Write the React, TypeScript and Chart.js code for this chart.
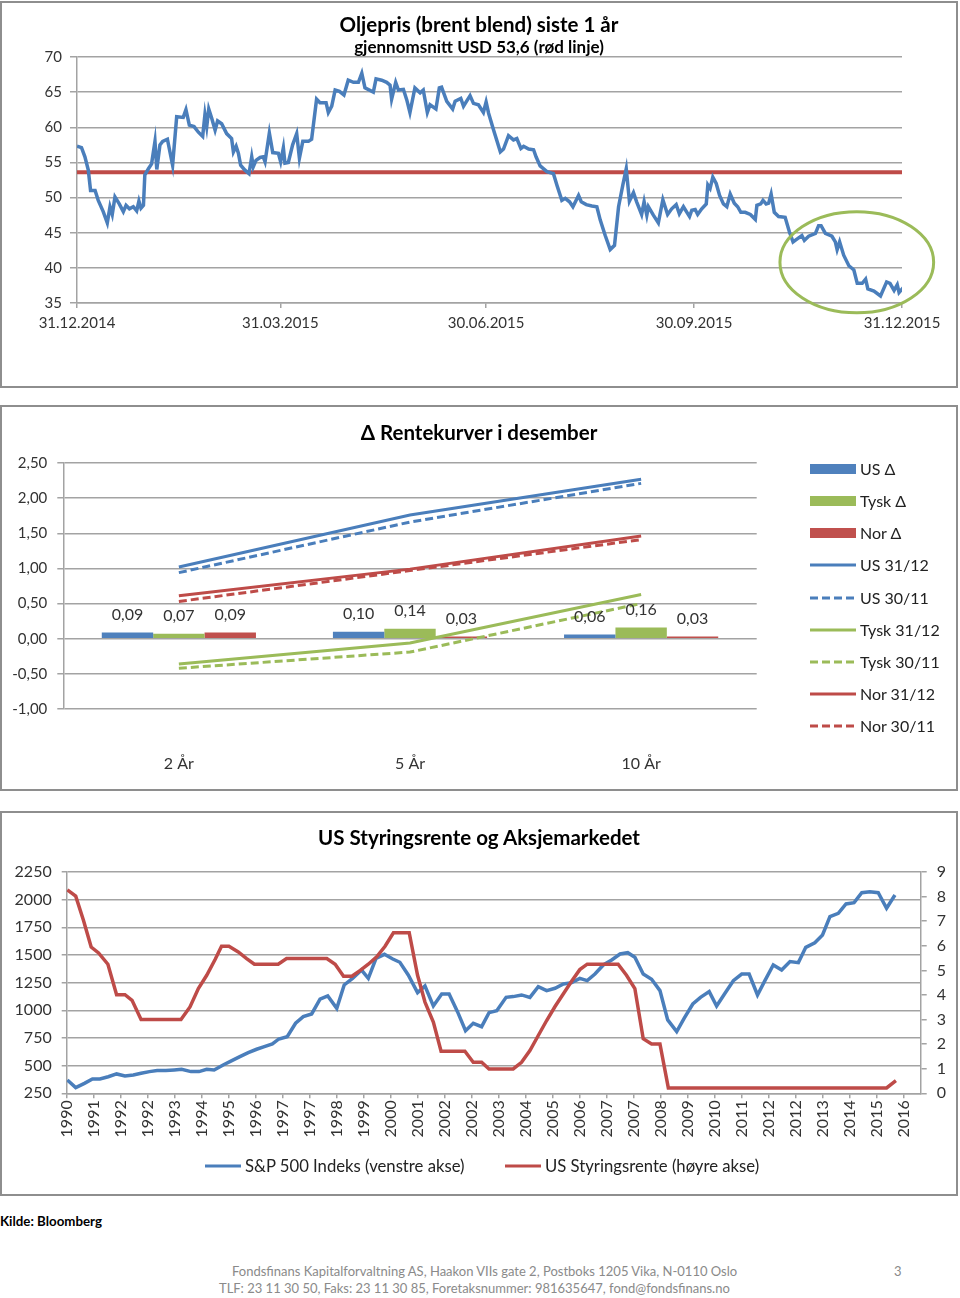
import React, { useEffect, useRef } from 'react';
import { Chart, registerables } from 'chart.js';

Chart.register(...registerables);

const FONT = 'Lato, "Open Sans", "Noto Sans", sans-serif';
const BLUE = '#4a7ebb';
const RED = '#be4b48';
const GREEN = '#9bbb59';
const GRID = '#a3a3a3';
const TXT = '#333333';

Chart.defaults.font.family = FONT;
Chart.defaults.color = TXT;

// ---------------- Chart 1: Oljepris ----------------
const oilTitle = 'Oljepris (brent blend) siste 1 år';
const oilSubtitle = 'gjennomsnitt USD 53,6 (rød linje)';
const oilAverage = 53.6;
// days after 31.12.2014
const oilDays = [
  0, 2, 3.5, 5, 6, 8, 9.4, 11.6, 13.4, 14.6, 15.6, 16.8, 18.7, 20.5, 21.7, 23.2, 24.9, 26.4, 27.4, 28.3,
  29.4, 30, 31.6, 33, 34.5, 35.3, 36.7, 37.9, 40, 42.3, 44.1, 47, 48.2, 49.7, 51.8, 53.7, 55.6, 56.6, 57.4, 58.3,
  59.6, 61.1, 62.2, 64, 66.2, 68.4, 69.2, 70.4, 71.4, 72.4, 74.3, 76.1, 77.3, 78, 79.2, 81, 82.4, 83.2, 85.1, 86.6,
  89.1, 90.1, 91.3, 92, 93.5, 95.4, 97.2, 98.4, 99.9, 102.4, 103.8, 106, 107.5, 110.2, 111.2, 112.7, 114.2, 116.1, 118.1, 120,
  122.3, 124.5, 126, 127.4, 131.1, 132.3, 134.8, 137, 138.5, 139.2, 141, 142.2, 144.4, 145.9, 147.3, 149.5, 151.8, 153.2, 155, 156.2,
  158.8, 160.3, 161.3, 163.6, 166.2, 167.3, 169.8, 171, 173.9, 175.4, 177.6, 179.8, 181, 182.1, 184.3, 187.3, 188.7, 190.9, 193.1, 194.6,
  196.4, 197.6, 199.8, 202, 203.1, 204.9, 207.9, 210.8, 212.3, 214.5, 216, 217.9, 219.4, 221.9, 223.1, 225.3, 227.8, 230, 231.5, 233.7,
  235.9, 237.8, 239.6, 241.5, 243, 244.4, 246.2, 247.6, 249.8, 250.9, 252.1, 252.8, 255, 257.2, 259.2, 261.3, 263.1, 265.1, 266.5, 268.3,
  271, 272, 273.5, 274.6, 276.4, 278.4, 279.1, 280.1, 281.3, 282.8, 284.3, 286, 287.5, 289, 290.8, 292.3, 293.7, 295.6, 297.9, 300.1,
  300.8, 302.5, 303.5, 304.9, 306, 307.1, 308.5, 310.4, 313.3, 315.2, 316.8, 318.5, 320.7, 321.8, 323.7, 326.7, 328.1, 329.2, 331.1, 334,
  335.5, 336.3, 337.4, 339.2, 341.5, 343.7, 345.2, 347.4, 348.9, 349.9, 352.6, 355.5, 358.2, 359.7, 361.5, 362.9, 363.7, 365.6,
];
const oilPrices = [
  57.3, 57.1, 55.8, 53.9, 51.0, 51.0, 49.6, 48.0, 46.4, 48.7, 47.6, 50.1, 49.1, 48.0, 48.9, 48.4, 48.7, 48.1, 49.5, 48.5,
  48.9, 53.2, 54.1, 54.8, 58.0, 54.0, 57.5, 58.0, 58.3, 54.6, 61.5, 61.4, 62.5, 60.3, 60.1, 59.3, 58.7, 61.8, 60.1, 62.6,
  61.3, 59.6, 60.9, 60.5, 59.1, 58.4, 56.5, 57.3, 56.3, 54.6, 53.9, 53.4, 55.8, 54.4, 55.3, 55.7, 55.8, 55.1, 59.2, 56.4,
  56.3, 55.1, 57.1, 54.9, 55.0, 57.5, 59.1, 55.6, 58.0, 58.0, 58.3, 64.0, 63.5, 63.5, 62.1, 63.0, 65.3, 65.1, 64.6, 66.7,
  66.4, 66.4, 67.7, 65.6, 65.0, 66.9, 66.7, 66.4, 66.0, 64.0, 66.4, 65.3, 65.4, 63.9, 62.1, 65.6, 64.9, 65.3, 62.1, 63.2,
  62.6, 65.6, 65.7, 63.7, 62.6, 63.7, 64.1, 63.0, 64.5, 63.4, 63.2, 62.1, 63.6, 62.0, 59.6, 56.5, 56.9, 58.8, 58.2, 58.4,
  57.0, 57.3, 56.9, 56.8, 55.8, 54.5, 53.7, 53.4, 51.8, 49.6, 49.9, 49.4, 48.7, 50.3, 49.4, 49.0, 48.8, 48.7, 46.8, 44.6,
  42.6, 43.2, 48.7, 51.8, 54.1, 49.5, 50.7, 49.4, 47.6, 49.4, 47.5, 48.7, 47.5, 46.4, 49.7, 47.6, 48.4, 49.0, 47.7, 48.7,
  47.3, 48.2, 48.3, 47.6, 48.4, 49.1, 51.8, 51.3, 52.9, 52.0, 50.3, 49.1, 48.7, 50.5, 49.2, 48.7, 47.9, 47.9, 47.6, 46.9,
  48.9, 49.1, 49.6, 49.1, 49.2, 50.5, 47.9, 47.3, 47.2, 45.1, 43.7, 44.1, 44.6, 43.9, 44.5, 44.9, 46.0, 46.0, 44.9, 44.5,
  43.7, 42.6, 43.7, 41.8, 40.3, 39.7, 37.8, 37.8, 38.4, 37.0, 36.7, 36.0, 38.0, 37.8, 36.8, 37.6, 36.5, 37.2,
];
const oilTickDays = [0, 90, 181, 273, 365];
const oilTickLabels = ['31.12.2014', '31.03.2015', '30.06.2015', '30.09.2015', '31.12.2015'];
const oilYMin = 35;
const oilYMax = 70;
const oilYStep = 5;
// highlight ellipse (centre day, centre price, radius days, radius price)
const highlightCenter = [345, 40.8];
const highlightRadius = [34, 7.2];

// ---------------- Chart 2: Rentekurver ----------------
const curveTitle = 'Δ Rentekurver i desember';
const curveCategories = ['2 År', '5 År', '10 År'];
const usDelta = [0.09, 0.10, 0.06];
const tyskDelta = [0.07, 0.14, 0.16];
const norDelta = [0.09, 0.03, 0.03];
const us3112 = [1.02, 1.76, 2.27];
const us3011 = [0.94, 1.66, 2.21];
const tysk3112 = [-0.36, -0.06, 0.63];
const tysk3011 = [-0.42, -0.19, 0.5];
const nor3112 = [0.61, 0.99, 1.46];
const nor3011 = [0.53, 0.97, 1.41];

// ---------------- Chart 3: Styringsrente ----------------
const rateTitle = 'US Styringsrente og Aksjemarkedet';
const yearTickLabels = [
  '1990', '1991', '1992', '1992', '1993', '1994', '1995', '1996', '1997', '1997', '1998', '1999', '2000', '2001', '2002', '2002',
  '2003', '2004', '2005', '2006', '2007', '2007', '2008', '2009', '2010', '2011', '2012', '2012', '2013', '2014', '2015', '2016',
];
const spYears = [
  1990.02, 1990.28, 1990.55, 1990.80, 1991.03, 1991.29, 1991.55, 1991.81, 1992.07, 1992.31, 1992.57, 1992.81, 1993.08, 1993.34, 1993.57, 1993.86,
  1994.11, 1994.35, 1994.58, 1994.86, 1995.13, 1995.38, 1995.64, 1995.90, 1996.14, 1996.39, 1996.59, 1996.85, 1997.11, 1997.35, 1997.61, 1997.87,
  1998.11, 1998.39, 1998.62, 1998.88, 1999.16, 1999.37, 1999.61, 1999.87, 2000.13, 2000.35, 2000.61, 2000.90, 2001.13, 2001.39, 2001.65, 2001.88,
  2002.14, 2002.39, 2002.63, 2002.89, 2003.12, 2003.36, 2003.65, 2003.87, 2004.13, 2004.39, 2004.65, 2004.91, 2005.17, 2005.43, 2005.69, 2005.94,
  2006.17, 2006.41, 2006.67, 2006.93, 2007.19, 2007.43, 2007.65, 2007.91, 2008.17, 2008.43, 2008.67, 2008.95, 2009.18, 2009.45, 2009.69, 2009.96,
  2010.19, 2010.45, 2010.71, 2010.97, 2011.20, 2011.46, 2011.69, 2011.95, 2012.21, 2012.47, 2012.73, 2012.96, 2013.24, 2013.48, 2013.71, 2013.97,
  2014.21, 2014.46, 2014.70, 2014.95, 2015.21, 2015.47, 2015.73,
];
const spValues = [
  370, 301, 340, 380, 380, 400, 425, 407, 416, 431, 446, 455, 455, 461, 467, 446,
  446, 467, 461, 506, 545, 581, 617, 648, 672, 696, 741, 762, 883, 943, 967, 1100,
  1130, 1018, 1229, 1289, 1364, 1289, 1470, 1506, 1464, 1434, 1319, 1160, 1220, 1039, 1148, 1148,
  988, 816, 883, 852, 979, 997, 1117, 1124, 1139, 1117, 1214, 1178, 1199, 1238, 1250, 1289,
  1268, 1328, 1410, 1455, 1509, 1521, 1479, 1328, 1280, 1178, 913, 807, 928, 1057, 1117, 1169,
  1039, 1154, 1268, 1328, 1328, 1139, 1268, 1410, 1364, 1440, 1431, 1569, 1611, 1681, 1846, 1876,
  1961, 1973, 2063, 2072, 2063, 1922, 2042,
];
const rateYears = [
  1990.02, 1990.28, 1990.52, 1990.76, 1990.99, 1991.28, 1991.55, 1991.81, 1992.03, 1992.31, 1993.55, 1993.83, 1994.09, 1994.35, 1994.61, 1994.81,
  1995.04, 1995.33, 1995.59, 1995.83, 1996.57, 1996.83, 1998.08, 1998.34, 1998.60, 1998.86, 1999.12, 1999.37, 1999.63, 1999.89, 2000.15, 2000.64,
  2000.90, 2001.13, 2001.39, 2001.63, 2002.37, 2002.63, 2002.89, 2003.12, 2003.87, 2004.13, 2004.39, 2004.65, 2004.91, 2005.17, 2005.43, 2005.69,
  2005.94, 2006.17, 2007.13, 2007.39, 2007.65, 2007.91, 2008.17, 2008.43, 2008.69, 2015.47, 2015.76,
];
const rateValues = [
  8.27, 8.02, 7.04, 5.95, 5.71, 5.25, 4.01, 4.01, 3.78, 3.0, 3.0, 3.51, 4.26, 4.80, 5.44, 5.98,
  5.98, 5.75, 5.48, 5.25, 5.25, 5.48, 5.48, 5.25, 4.76, 4.76, 5.0, 5.25, 5.55, 5.98, 6.53, 6.53,
  4.80, 3.71, 2.90, 1.71, 1.71, 1.26, 1.26, 0.99, 0.99, 1.26, 1.74, 2.35, 2.96, 3.53, 4.05, 4.57,
  5.03, 5.25, 5.25, 4.80, 4.26, 2.22, 2.01, 2.01, 0.22, 0.22, 0.52,
];
const rateXStart = 1990;
const rateXEnd = 2016.53;
const rateTickStep = 26 / 31;
const spLegend = 'S&P 500 Indeks (venstre akse)';
const rateLegend = 'US Styringsrente (høyre akse)';

const fmtComma = (v: number) => v.toFixed(2).replace('.', ',');

function OilChart() {
  const ref = useRef<HTMLCanvasElement>(null);
  useEffect(() => {
    const ellipsePlugin = {
      id: 'highlightEllipse',
      afterDatasetsDraw(chart: any) {
        const { ctx, scales } = chart;
        const x = scales.x;
        const y = scales.y;
        const cx = x.getPixelForValue(highlightCenter[0]);
        const cy = y.getPixelForValue(highlightCenter[1]);
        const rx = Math.abs(x.getPixelForValue(highlightCenter[0] + highlightRadius[0]) - cx);
        const ry = Math.abs(y.getPixelForValue(highlightCenter[1] + highlightRadius[1]) - cy);
        ctx.save();
        ctx.beginPath();
        ctx.ellipse(cx, cy, rx, ry, 0, 0, Math.PI * 2);
        ctx.strokeStyle = GREEN;
        ctx.lineWidth = 3;
        ctx.stroke();
        ctx.restore();
      },
    };
    const chart = new Chart(ref.current as HTMLCanvasElement, {
      type: 'line',
      data: {
        datasets: [
          {
            label: 'Brent',
            data: oilDays.map((d, i) => ({ x: d, y: oilPrices[i] })),
            borderColor: BLUE,
            borderWidth: 3.5,
            pointRadius: 0,
            tension: 0,
          },
          {
            label: 'Gjennomsnitt',
            data: [
              { x: oilTickDays[0], y: oilAverage },
              { x: oilTickDays[oilTickDays.length - 1], y: oilAverage },
            ],
            borderColor: RED,
            borderWidth: 4,
            pointRadius: 0,
          },
        ],
      },
      options: {
        responsive: false,
        animation: false,
        layout: { padding: { top: 54, right: 54, left: 0, bottom: 0 } },
        plugins: { legend: { display: false }, tooltip: { enabled: false } },
        scales: {
          x: {
            type: 'linear',
            min: oilTickDays[0],
            max: oilTickDays[oilTickDays.length - 1],
            afterBuildTicks: (axis: any) => {
              axis.ticks = oilTickDays.map((v) => ({ value: v }));
            },
            afterFit: (axis: any) => {
              axis.height = 83;
            },
            ticks: {
              callback: (_v: any, i: number) => oilTickLabels[i],
              autoSkip: false,
              maxRotation: 0,
              padding: 6,
              font: { size: 15 },
              color: TXT,
            },
            grid: { drawOnChartArea: false, drawTicks: true, tickLength: 5, color: GRID, lineWidth: 1.5 },
            border: { display: true, color: GRID, width: 1.5 },
          },
          y: {
            min: oilYMin,
            max: oilYMax,
            afterFit: (axis: any) => {
              axis.width = 75;
            },
            ticks: { stepSize: oilYStep, padding: 8, font: { size: 15 }, color: TXT },
            grid: { color: GRID, lineWidth: 1.5, tickLength: 7 },
            border: { color: GRID, width: 1.5 },
          },
        },
      },
      plugins: [ellipsePlugin],
    } as any);
    return () => chart.destroy();
  }, []);
  return <canvas ref={ref} width={954} height={383} style={{ position: 'absolute', left: 0, top: 0 }} />;
}

function CurveChart() {
  const ref = useRef<HTMLCanvasElement>(null);
  useEffect(() => {
    const labelPlugin = {
      id: 'barLabels',
      afterDatasetsDraw(chart: any) {
        const { ctx } = chart;
        ctx.save();
        ctx.font = `16px ${FONT}`;
        ctx.fillStyle = TXT;
        ctx.textAlign = 'center';
        ctx.textBaseline = 'middle';
        chart.data.datasets.forEach((ds: any, i: number) => {
          if (ds.type !== 'bar') return;
          const meta = chart.getDatasetMeta(i);
          meta.data.forEach((el: any, j: number) => {
            ctx.fillText(fmtComma(ds.data[j]), el.x, el.y - 18);
          });
        });
        ctx.restore();
      },
    };
    const bar = (label: string, data: number[], color: string) => ({
      type: 'bar',
      label,
      data,
      backgroundColor: color,
      borderWidth: 0,
      categoryPercentage: 0.667,
      barPercentage: 1,
      order: 2,
    });
    const line = (label: string, data: number[], color: string, dashed: boolean) => ({
      type: 'line',
      label,
      data,
      borderColor: color,
      borderWidth: 3,
      borderDash: dashed ? [8, 4] : [],
      pointRadius: 0,
      fill: false,
      order: 1,
    });
    const chart = new Chart(ref.current as HTMLCanvasElement, {
      type: 'bar',
      data: {
        labels: curveCategories,
        datasets: [
          bar('US Δ', usDelta, '#4f81bd'),
          bar('Tysk Δ', tyskDelta, GREEN),
          bar('Nor Δ', norDelta, '#c0504d'),
          line('US 31/12', us3112, BLUE, false),
          line('US 30/11', us3011, BLUE, true),
          line('Tysk 31/12', tysk3112, GREEN, false),
          line('Tysk 30/11', tysk3011, GREEN, true),
          line('Nor 31/12', nor3112, RED, false),
          line('Nor 30/11', nor3011, RED, true),
        ],
      },
      options: {
        responsive: false,
        animation: false,
        layout: { padding: { top: 56, right: 199.3, left: 0, bottom: 0 } },
        plugins: { legend: { display: false }, tooltip: { enabled: false } },
        scales: {
          x: {
            afterFit: (axis: any) => {
              axis.height = 80;
            },
            ticks: { padding: 45, font: { size: 16 }, color: TXT, maxRotation: 0 },
            grid: { display: false, drawTicks: false, tickLength: 0 },
            border: { display: false },
          },
          y: {
            min: -1,
            max: 2.5,
            afterFit: (axis: any) => {
              axis.width = 61.3;
            },
            ticks: { stepSize: 0.5, padding: 10, font: { size: 15 }, color: TXT, callback: (v: any) => fmtComma(Number(v)) },
            grid: { color: GRID, lineWidth: 1.5, tickLength: 6 },
            border: { color: GRID, width: 1.5 },
          },
        },
      },
      plugins: [labelPlugin],
    } as any);
    return () => chart.destroy();
  }, []);
  return <canvas ref={ref} width={954} height={382} style={{ position: 'absolute', left: 0, top: 0 }} />;
}

function RateChart() {
  const ref = useRef<HTMLCanvasElement>(null);
  useEffect(() => {
    const chart = new Chart(ref.current as HTMLCanvasElement, {
      type: 'line',
      data: {
        datasets: [
          {
            label: spLegend,
            data: spYears.map((x, i) => ({ x, y: spValues[i] })),
            borderColor: BLUE,
            borderWidth: 3.5,
            pointRadius: 0,
            yAxisID: 'y',
            order: 2,
          },
          {
            label: rateLegend,
            data: rateYears.map((x, i) => ({ x, y: rateValues[i] })),
            borderColor: RED,
            borderWidth: 3.5,
            pointRadius: 0,
            yAxisID: 'y1',
            order: 1,
          },
        ],
      },
      options: {
        responsive: false,
        animation: false,
        layout: { padding: { top: 59, right: 0, left: 0, bottom: 0 } },
        plugins: { legend: { display: false }, tooltip: { enabled: false } },
        scales: {
          x: {
            type: 'linear',
            min: rateXStart,
            max: rateXEnd,
            afterBuildTicks: (axis: any) => {
              axis.ticks = yearTickLabels.map((_l, i) => ({ value: rateXStart + i * rateTickStep }));
            },
            afterFit: (axis: any) => {
              axis.height = 100.7;
            },
            ticks: {
              callback: (_v: any, i: number) => yearTickLabels[i],
              autoSkip: false,
              minRotation: 90,
              maxRotation: 90,
              padding: 2,
              font: { size: 16 },
              color: TXT,
            },
            grid: { drawOnChartArea: false, tickLength: 5, color: GRID, lineWidth: 1.5 },
            border: { color: GRID, width: 1.5 },
          },
          y: {
            position: 'left',
            min: 250,
            max: 2250,
            afterFit: (axis: any) => {
              axis.width = 64.7;
            },
            ticks: { stepSize: 250, padding: 10, font: { size: 16 }, color: TXT, callback: (v: any) => String(v) },
            grid: { color: GRID, lineWidth: 1.5, tickLength: 5 },
            border: { color: GRID, width: 1.5 },
          },
          y1: {
            position: 'right',
            min: 0,
            max: 9,
            afterFit: (axis: any) => {
              axis.width = 35.3;
            },
            ticks: { stepSize: 1, padding: 10, font: { size: 16 }, color: TXT, callback: (v: any) => String(v) },
            grid: { drawOnChartArea: false, color: GRID, lineWidth: 1.5, tickLength: 6 },
            border: { color: GRID, width: 1.5 },
          },
        },
      },
    } as any);
    return () => chart.destroy();
  }, []);
  return <canvas ref={ref} width={954} height={381} style={{ position: 'absolute', left: 0, top: 0 }} />;
}

function Box({ top, height, children }: { top: number; height: number; children: React.ReactNode }) {
  return (
    <div
      style={{
        position: 'absolute',
        left: 0,
        top,
        width: 958,
        height,
        boxSizing: 'border-box',
        border: '2px solid #8e8e8e',
      }}
    >
      {children}
    </div>
  );
}

function CenterText({ y, size, text }: { y: number; size: number; text: string }) {
  return (
    <div
      style={{
        position: 'absolute',
        left: 0,
        width: 958,
        top: y - 15,
        height: 30,
        lineHeight: '30px',
        textAlign: 'center',
        fontWeight: 700,
        fontSize: size,
        color: '#000',
        whiteSpace: 'nowrap',
      }}
    >
      {text}
    </div>
  );
}

const curveLegendItems = [
  { label: 'US Δ', color: '#4f81bd', kind: 'bar' },
  { label: 'Tysk Δ', color: GREEN, kind: 'bar' },
  { label: 'Nor Δ', color: '#c0504d', kind: 'bar' },
  { label: 'US 31/12', color: BLUE, kind: 'solid' },
  { label: 'US 30/11', color: BLUE, kind: 'dash' },
  { label: 'Tysk 31/12', color: GREEN, kind: 'solid' },
  { label: 'Tysk 30/11', color: GREEN, kind: 'dash' },
  { label: 'Nor 31/12', color: RED, kind: 'solid' },
  { label: 'Nor 30/11', color: RED, kind: 'dash' },
];

function LegendRow({ x, y, w, color, kind, label, size }: any) {
  return (
    <div style={{ position: 'absolute', left: x, top: y - 10, height: 20, display: 'flex', alignItems: 'center', whiteSpace: 'nowrap' }}>
      <svg width={w} height={20} style={{ display: 'block' }}>
        {kind === 'bar' ? (
          <rect x={0} y={5} width={w} height={10} fill={color} />
        ) : (
          <line x1={0} y1={10} x2={w} y2={10} stroke={color} strokeWidth={3.2} strokeDasharray={kind === 'dash' ? '8 4' : undefined} />
        )}
      </svg>
      <span style={{ marginLeft: 4, fontSize: size, lineHeight: '20px', color: '#222' }}>{label}</span>
    </div>
  );
}

export default function App() {
  return (
    <div
      style={{
        position: 'absolute',
        left: 0,
        top: 0,
        width: 960,
        height: 1298,
        background: '#fff',
        fontFamily: FONT,
        overflow: 'hidden',
      }}
    >
      <Box top={1} height={387}>
        <OilChart />
      </Box>
      <CenterText y={24} size={20.5} text={oilTitle} />
      <CenterText y={47} size={17} text={oilSubtitle} />

      <Box top={405} height={386}>
        <CurveChart />
      </Box>
      <CenterText y={432} size={20.5} text={curveTitle} />
      {curveLegendItems.map((it, i) => (
        <LegendRow key={it.label} x={810} y={469 + i * 32.125} w={46} color={it.color} kind={it.kind} label={it.label} size={16} />
      ))}

      <Box top={811} height={385}>
        <RateChart />
      </Box>
      <CenterText y={837} size={20.5} text={rateTitle} />
      <LegendRow x={205} y={1166} w={36} color={BLUE} kind="solid" label={spLegend} size={16.7} />
      <LegendRow x={505} y={1166} w={36} color={RED} kind="solid" label={rateLegend} size={16.7} />

      <div style={{ position: 'absolute', left: 0, top: 1213, fontSize: 13.3, fontWeight: 700, color: '#000', lineHeight: '16px' }}>
        Kilde: Bloomberg
      </div>
      <div style={{ position: 'absolute', left: 232, top: 1263, fontSize: 13, color: '#8a8a8a', lineHeight: '16px', whiteSpace: 'nowrap' }}>
        Fondsfinans Kapitalforvaltning AS, Haakon VIIs gate 2, Postboks 1205 Vika, N-0110 Oslo
      </div>
      <div style={{ position: 'absolute', left: 219, top: 1280, fontSize: 13, color: '#8a8a8a', lineHeight: '16px', whiteSpace: 'nowrap' }}>
        TLF: 23 11 30 50, Faks: 23 11 30 85, Foretaksnummer: 981635647, fond@fondsfinans.no
      </div>
      <div style={{ position: 'absolute', left: 894, top: 1263, fontSize: 13, color: '#8a8a8a', lineHeight: '16px' }}>3</div>
    </div>
  );
}
